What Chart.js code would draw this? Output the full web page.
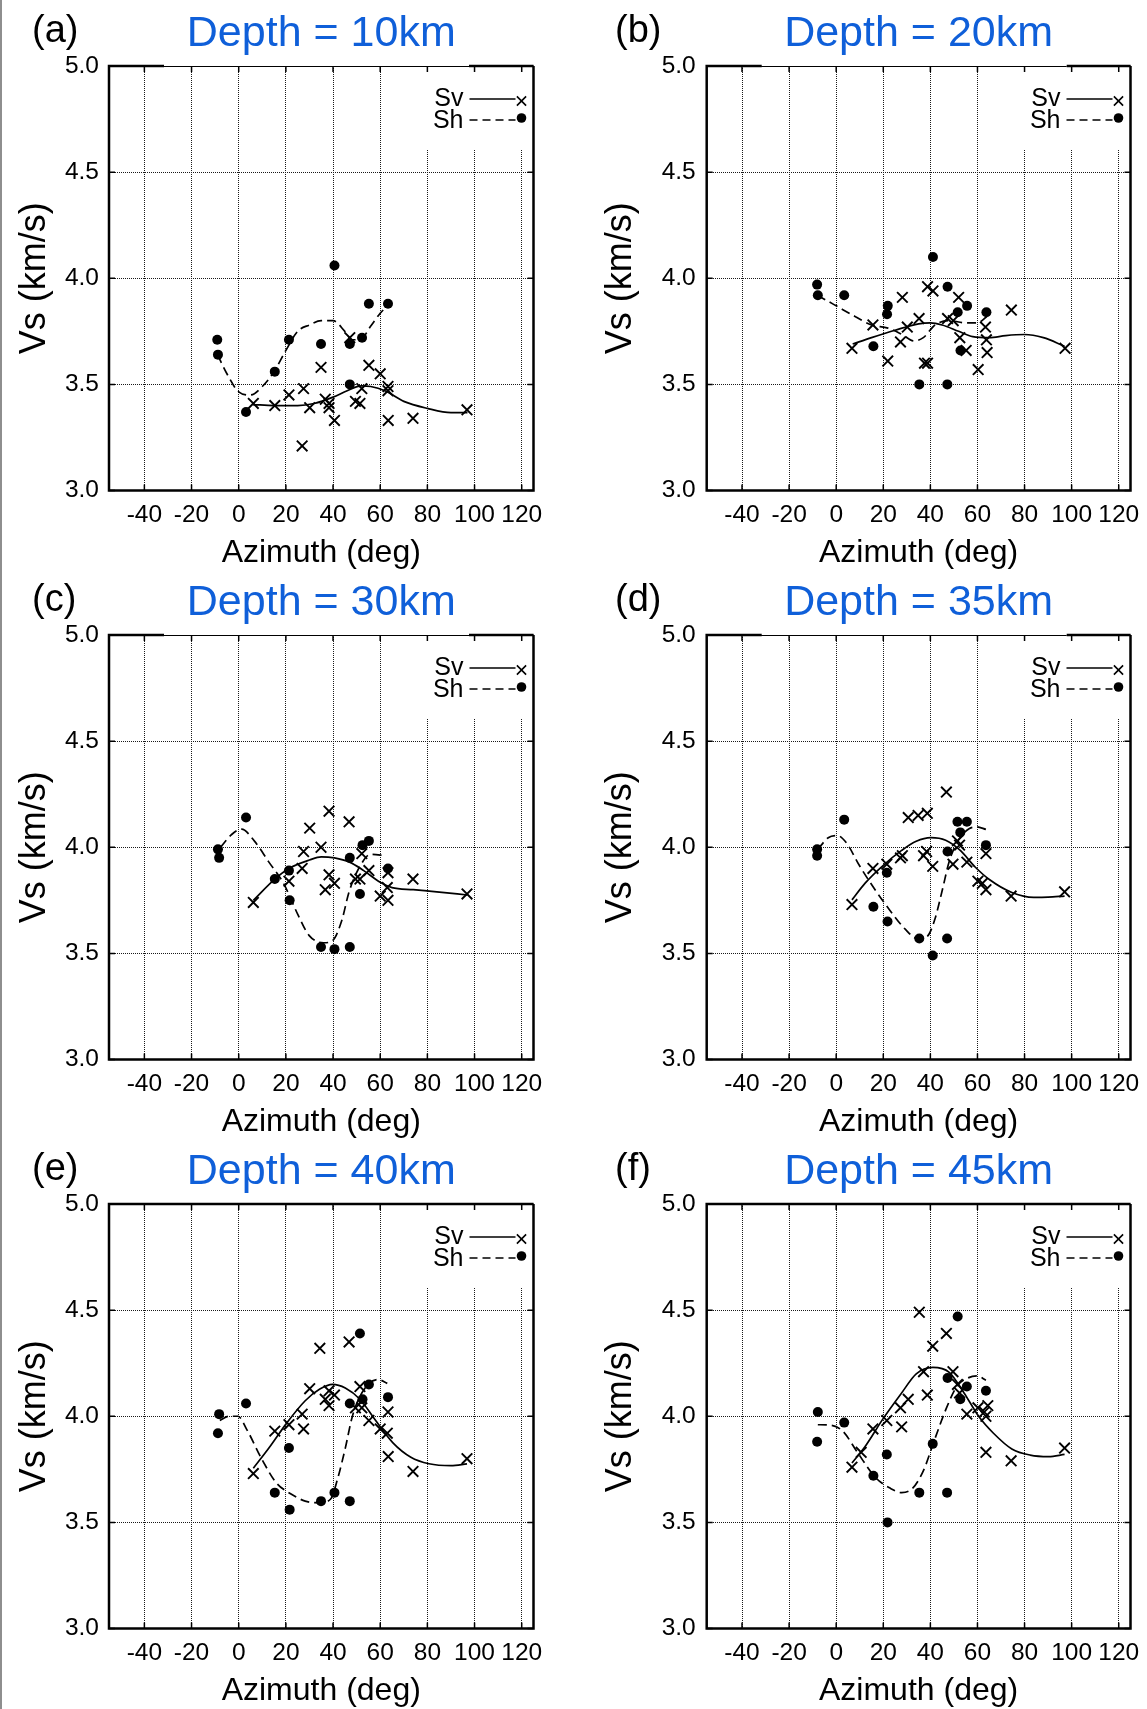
<!DOCTYPE html>
<html>
<head>
<meta charset="utf-8">
<script src="https://cdn.jsdelivr.net/npm/chart.js@4.4.1/dist/chart.umd.min.js"></script>
<style>
  html, body { margin: 0; padding: 0; background: #fff; }
  #figure { position: relative; width: 1147px; height: 1709px; background: #fff; overflow: hidden; }
  #edge { position: absolute; left: 0; top: 0; width: 2px; height: 1709px; background: #8e8e8e; }
  .panel { position: absolute; }
</style>
</head>
<body>
<div id="figure"><div id="edge"></div></div>
<script>
const xTicks = [-40, -20, 0, 20, 40, 60, 80, 100, 120];
const yTicks = [3.0, 3.5, 4.0, 4.5, 5.0];
const depths = [10, 20, 30, 35, 40, 45];
const panelLetters = ['a', 'b', 'c', 'd', 'e', 'f'];

// [azimuth, Vs] pairs
// depth 10 km
const sv10 = [[6.2,3.41],[15.3,3.40],[21.3,3.45],[27.5,3.48],[26.9,3.21],[30.1,3.39],[34.9,3.58],[36.7,3.43],[38.3,3.41],[38.3,3.39],[40.6,3.33],[47.1,3.72],[49.5,3.42],[51.4,3.41],[52.2,3.48],[55.2,3.59],[60.0,3.55],[63.3,3.49],[63.3,3.47],[63.4,3.33],[73.9,3.34],[96.8,3.38]];
const sh10 = [[-9.1,3.71],[-8.8,3.64],[3.1,3.37],[15.3,3.56],[21.3,3.71],[34.9,3.69],[40.6,4.06],[47.1,3.69],[47.1,3.50],[52.3,3.72],[55.2,3.88],[63.3,3.88]];
const svFit10 = [[6,3.405],[15,3.40],[25,3.40],[32,3.41],[40,3.44],[46,3.47],[52,3.493],[56,3.49],[62,3.47],[70,3.42],[80,3.387],[90,3.367],[97,3.367]];
const shFit10 = [[-9,3.64],[-5,3.55],[0,3.465],[5,3.45],[10,3.49],[15,3.56],[20,3.66],[25,3.75],[30,3.78],[35,3.80],[40,3.80],[45,3.75],[48,3.71],[52,3.715],[56,3.775],[60,3.835],[63,3.87]];

// depth 20 km
const sv20 = [[6.7,3.67],[15.6,3.78],[21.9,3.61],[28.1,3.91],[27.3,3.70],[30.2,3.77],[35.2,3.81],[37.5,3.60],[38.8,3.60],[38.8,3.96],[41.1,3.94],[47.3,3.81],[49.7,3.80],[52.0,3.91],[52.5,3.72],[55.2,3.66],[60.3,3.57],[63.4,3.77],[63.8,3.71],[64.1,3.65],[74.4,3.85],[97.2,3.67]];
const sh20 = [[-8.1,3.97],[-7.8,3.92],[3.4,3.92],[15.8,3.68],[21.9,3.87],[21.6,3.83],[35.3,3.50],[41.1,4.10],[47.3,3.96],[47.2,3.50],[51.6,3.84],[52.8,3.66],[55.6,3.87],[63.8,3.84]];
const svFit20 = [[7,3.69],[15,3.72],[25,3.755],[35,3.785],[40,3.79],[45,3.78],[52,3.75],[58,3.725],[65,3.72],[72,3.73],[80,3.735],[88,3.72],[97,3.68]];
const shFit20 = [[-8,3.92],[0,3.87],[8,3.82],[15,3.78],[22,3.765],[28,3.735],[33,3.705],[37,3.72],[42,3.78],[48,3.80],[55,3.79],[60,3.79],[64,3.82]];

// depth 30 km
const sv30 = [[6.2,3.74],[21.3,3.84],[27.5,3.98],[26.9,3.90],[30.1,4.09],[34.9,4.00],[38.3,4.17],[38.3,3.87],[36.7,3.80],[40.6,3.83],[46.8,4.12],[49.5,3.85],[51.4,3.85],[52.2,3.97],[55.2,3.89],[60.0,3.77],[63.0,3.81],[63.3,3.88],[63.3,3.75],[73.9,3.85],[96.8,3.78]];
const sh30 = [[-8.8,3.99],[-8.3,3.95],[3.1,4.14],[15.3,3.85],[21.3,3.89],[21.6,3.75],[34.9,3.53],[40.6,3.52],[47.1,3.53],[47.1,3.95],[51.4,3.78],[52.5,4.01],[55.2,4.03],[63.3,3.90]];
const svFit30 = [[6.2,3.75],[15.3,3.85],[21.3,3.90],[30,3.94],[35,3.955],[40.6,3.95],[47,3.93],[53,3.89],[60,3.835],[65,3.81],[74,3.80],[84,3.79],[97,3.775]];
const shFit30 = [[-7.7,4.0],[-3,4.06],[1.2,4.085],[6.6,4.03],[12.8,3.93],[19,3.83],[25.2,3.68],[29.8,3.585],[36,3.55],[39.8,3.56],[43.7,3.655],[46.8,3.79],[51.4,3.91],[56,3.967],[62.2,3.96]];

// depth 35 km
const sv35 = [[6.7,3.73],[15.6,3.90],[21.5,3.92],[27.3,3.95],[28.1,3.96],[30.6,4.14],[34.8,4.15],[38.7,4.16],[37.1,3.96],[38.4,3.98],[41.0,3.91],[46.8,4.26],[49.6,3.92],[51.5,4.03],[52.4,4.01],[55.5,3.93],[60.2,3.84],[62.1,3.83],[63.6,3.80],[63.6,3.97],[74.3,3.77],[97.0,3.79]];
const sh35 = [[-8.1,3.99],[-8.1,3.96],[3.4,4.13],[15.8,3.72],[21.5,3.88],[21.8,3.65],[35.3,3.57],[41.0,3.49],[47.3,3.98],[47.1,3.57],[51.5,4.12],[52.7,4.07],[55.5,4.12],[63.6,4.01]];
const svFit35 = [[6.7,3.752],[12.2,3.83],[20,3.915],[27.8,3.985],[34,4.028],[40.2,4.045],[46.5,4.033],[52.7,3.985],[59,3.907],[65.2,3.847],[74.6,3.787],[83.9,3.764],[90,3.765],[97,3.77]];
const shFit35 = [[-7.8,3.99],[-3.4,4.045],[0.5,4.055],[4.4,4.02],[9.8,3.915],[16.8,3.795],[23,3.70],[29.3,3.614],[34.8,3.568],[38.7,3.58],[41.8,3.657],[45,3.795],[48,3.933],[52,4.036],[56.6,4.088],[59.7,4.096],[63.6,4.084]];

// depth 40 km
const sv40 = [[6.2,3.73],[15.3,3.93],[21.3,3.96],[26.9,4.01],[27.5,3.94],[30.1,4.13],[34.4,4.32],[36.7,4.08],[38.3,4.12],[38.3,4.05],[40.6,4.10],[46.8,4.35],[49.5,4.04],[51.4,4.14],[52.2,4.04],[55.2,3.98],[60.0,3.94],[63.0,3.92],[63.3,4.02],[63.4,3.81],[73.9,3.74],[96.8,3.80]];
const sh40 = [[-8.3,4.01],[-8.8,3.92],[3.1,4.06],[15.3,3.64],[21.3,3.85],[21.6,3.56],[34.9,3.60],[40.6,3.64],[47.1,3.60],[47.1,4.06],[51.4,4.39],[52.5,4.08],[55.2,4.15],[63.3,4.09]];
const svFit40 = [[6.2,3.755],[12.8,3.85],[20.5,3.97],[28.2,4.073],[34.4,4.128],[39.8,4.15],[45.2,4.133],[51.4,4.08],[57.6,3.987],[65.3,3.876],[73,3.807],[80.7,3.776],[90,3.767],[96.8,3.776]];
const shFit40 = [[-8,3.98],[-4.2,4.0],[-0.3,4.0],[3.5,3.936],[9.7,3.80],[15.9,3.687],[22,3.635],[28.2,3.60],[34.4,3.592],[39,3.61],[42.1,3.712],[45.2,3.85],[48.3,4.004],[53,4.124],[59,4.173],[63,4.155]];

// depth 45 km
const sv45 = [[6.7,3.76],[10.6,3.83],[15.6,3.94],[21.5,3.98],[27.3,4.04],[27.8,3.95],[30.6,4.08],[35.3,4.49],[37.1,4.21],[38.7,4.10],[41.0,4.33],[46.8,4.39],[49.6,4.21],[51.5,4.15],[52.4,4.11],[55.5,4.01],[60.2,4.04],[62.9,4.02],[63.6,4.00],[64.4,4.05],[63.6,3.83],[74.3,3.79],[97.0,3.85]];
const sh45 = [[-7.8,4.02],[-8.1,3.88],[3.4,3.97],[15.8,3.72],[21.5,3.82],[21.8,3.50],[35.3,3.64],[41.0,3.87],[47.3,4.18],[47.1,3.64],[51.6,4.47],[52.7,4.08],[55.5,4.14],[63.6,4.12]];
const svFit45 = [[6.7,3.78],[12.2,3.856],[20,3.99],[27.8,4.11],[34,4.20],[41,4.23],[48,4.207],[54.3,4.11],[60.5,4.0],[66.8,3.92],[74.6,3.846],[82.4,3.817],[90.2,3.81],[97,3.82]];
const shFit45 = [[-7.8,3.96],[-2.7,3.958],[2.8,3.93],[9,3.83],[16.8,3.71],[23.1,3.66],[27.8,3.64],[32.4,3.66],[37.1,3.745],[41.8,3.89],[46.5,4.03],[51.2,4.14],[55.9,4.18],[59.8,4.19],[63.6,4.17]];

const svSets = [sv10, sv20, sv30, sv35, sv40, sv45];
const shSets = [sh10, sh20, sh30, sh35, sh40, sh45];
const svFits = [svFit10, svFit20, svFit30, svFit35, svFit40, svFit45];
const shFits = [shFit10, shFit20, shFit30, shFit35, shFit40, shFit45];

const FONT = '"Liberation Sans", Arial, Helvetica, sans-serif';
Chart.defaults.font.family = FONT;
Chart.defaults.color = '#000';

const toXY = pts => pts.map(p => ({ x: p[0], y: p[1] }));

// gnuplot-like frame, inward ticks, key and panel letter
const gnuplotFrame = {
  id: 'gnuplotFrame',
  beforeDatasetsDraw(chart) {
    const { ctx, chartArea: a } = chart;
    ctx.save();
    ctx.fillStyle = '#fff';
    ctx.fillRect(a.right - 110, a.top, 110, 84);
    ctx.restore();
  },
  afterDatasetsDraw(chart, args, opts) {
    const { ctx, chartArea: a } = chart;
    const xs = chart.scales.x, ys = chart.scales.y;
    ctx.save();
    ctx.strokeStyle = '#000';
    ctx.lineWidth = 1.5;
    ctx.beginPath();
    xTicks.forEach(v => {
      const px = xs.getPixelForValue(v);
      ctx.moveTo(px, a.bottom); ctx.lineTo(px, a.bottom - 6);
      ctx.moveTo(px, a.top); ctx.lineTo(px, a.top + 6);
    });
    yTicks.forEach(v => {
      const py = ys.getPixelForValue(v);
      ctx.moveTo(a.left, py); ctx.lineTo(a.left + 6, py);
      ctx.moveTo(a.right, py); ctx.lineTo(a.right - 6, py);
    });
    ctx.stroke();

    ctx.lineWidth = 2.5;
    ctx.beginPath();
    ctx.moveTo(a.right, a.top);
    ctx.lineTo(a.right, a.bottom);
    ctx.lineTo(a.left, a.bottom);
    ctx.lineTo(a.left, a.top);
    if (opts.thinTop) {
      ctx.lineTo(a.left + 55, a.top);
      ctx.moveTo(a.left + 360, a.top);
    }
    ctx.lineTo(a.right, a.top);
    ctx.stroke();
    if (opts.thinTop) {
      ctx.lineWidth = 1;
      ctx.beginPath();
      ctx.moveTo(a.left + 55, a.top + 0.5);
      ctx.lineTo(a.left + 360, a.top + 0.5);
      ctx.stroke();
    }

    // key
    const r = a.right;
    ctx.fillStyle = '#000';
    ctx.font = '25px ' + FONT;
    ctx.textAlign = 'right';
    ctx.textBaseline = 'alphabetic';
    ctx.fillText('Sv', r - 70, a.top + 39.5);
    ctx.fillText('Sh', r - 70, a.top + 61.5);
    ctx.lineWidth = 1.6;
    ctx.beginPath();
    ctx.moveTo(r - 64, a.top + 33); ctx.lineTo(r - 18, a.top + 33);
    ctx.stroke();
    ctx.setLineDash([8, 5]);
    ctx.beginPath();
    ctx.moveTo(r - 64, a.top + 54); ctx.lineTo(r - 18, a.top + 54);
    ctx.stroke();
    ctx.setLineDash([]);
    Chart.helpers.drawPoint(ctx, { pointStyle: 'crossRot', radius: 6.5, borderWidth: 1.8 }, r - 12, a.top + 35);
    ctx.beginPath();
    ctx.arc(r - 12, a.top + 52, 4.8, 0, Math.PI * 2);
    ctx.fill();

    // panel letter
    ctx.font = '38px ' + FONT;
    ctx.textAlign = 'left';
    ctx.fillText('(' + opts.letter + ')', opts.letterX, 42);
    ctx.restore();
  }
};

const figure = document.getElementById('figure');

depths.forEach((depth, i) => {
  const col = i % 2, row = Math.floor(i / 2);
  const w = col === 0 ? 570 : 577;
  const h = 569;
  const yAxisWidth = col === 0 ? 109 : 136.7;
  const rightPad = col === 0 ? 36.5 : 16.5;

  const holder = document.createElement('div');
  holder.className = 'panel';
  holder.style.left = (col === 0 ? 0 : 570) + 'px';
  holder.style.top = (row * 569) + 'px';
  const canvas = document.createElement('canvas');
  canvas.width = w;
  canvas.height = h;
  holder.appendChild(canvas);
  figure.appendChild(holder);

  new Chart(canvas, {
    type: 'scatter',
    data: {
      datasets: [
        {
          label: 'Sv',
          data: toXY(svSets[i]),
          pointStyle: 'crossRot',
          pointRadius: 7.5,
          pointBorderWidth: 1.9,
          pointBorderColor: '#000',
          borderColor: '#000'
        },
        {
          label: 'Sh',
          data: toXY(shSets[i]),
          pointStyle: 'circle',
          pointRadius: 5,
          pointBorderWidth: 0,
          pointBackgroundColor: '#000',
          backgroundColor: '#000'
        },
        {
          label: 'Sv fit',
          data: toXY(svFits[i]),
          showLine: true,
          pointRadius: 0,
          borderColor: '#000',
          borderWidth: 1.7,
          cubicInterpolationMode: 'monotone'
        },
        {
          label: 'Sh fit',
          data: toXY(shFits[i]),
          showLine: true,
          pointRadius: 0,
          borderColor: '#000',
          borderWidth: 1.7,
          borderDash: [9, 5],
          cubicInterpolationMode: 'monotone'
        }
      ]
    },
    options: {
      responsive: false,
      animation: false,
      events: [],
      layout: { padding: { left: 0, right: rightPad, top: 0, bottom: 0 }, autoPadding: false },
      plugins: {
        legend: { display: false },
        tooltip: { enabled: false },
        title: {
          display: true,
          fullSize: false,
          text: 'Depth = ' + depth + 'km',
          color: '#0f5fd9',
          font: { size: 43, weight: 'normal', lineHeight: 1 },
          padding: { top: 12.3, bottom: 10.7 }
        },
        gnuplotFrame: {
          letter: panelLetters[i],
          letterX: col === 0 ? 32 : 45,
          thinTop: i < 4
        }
      },
      scales: {
        x: {
          type: 'linear',
          min: -55,
          max: 125,
          afterBuildTicks: axis => { axis.ticks = xTicks.map(v => ({ value: v })); },
          afterFit: axis => { axis.height = 78.5; axis.paddingLeft = 0; axis.paddingRight = 0; },
          ticks: {
            autoSkip: false,
            maxRotation: 0,
            padding: 10.5,
            color: '#000',
            font: { size: 24.5 },
            callback: v => String(v)
          },
          grid: { color: '#1a1a1a', lineWidth: 1, drawTicks: false },
          border: { display: false, dash: [1, 1] },
          title: {
            display: true,
            text: 'Azimuth (deg)',
            color: '#000',
            font: { size: 32, lineHeight: 1 },
            padding: { top: 0, bottom: 0 }
          }
        },
        y: {
          type: 'linear',
          min: 3,
          max: 5,
          afterBuildTicks: axis => { axis.ticks = yTicks.map(v => ({ value: v })); },
          afterFit: axis => { axis.width = yAxisWidth; axis.paddingTop = 0; axis.paddingBottom = 0; },
          ticks: {
            padding: col === 0 ? 10 : 11,
            color: '#000',
            font: { size: 24.5 },
            callback: v => v.toFixed(1)
          },
          grid: { color: '#1a1a1a', lineWidth: 1, drawTicks: false },
          border: { display: false, dash: [1, 1] },
          title: {
            display: true,
            text: 'Vs (km/s)',
            color: '#000',
            font: { size: 36, lineHeight: 1 },
            padding: { top: col === 0 ? 17 : 33.5, bottom: 0 }
          }
        }
      }
    },
    plugins: [gnuplotFrame]
  });
});
</script>
</body>
</html>
